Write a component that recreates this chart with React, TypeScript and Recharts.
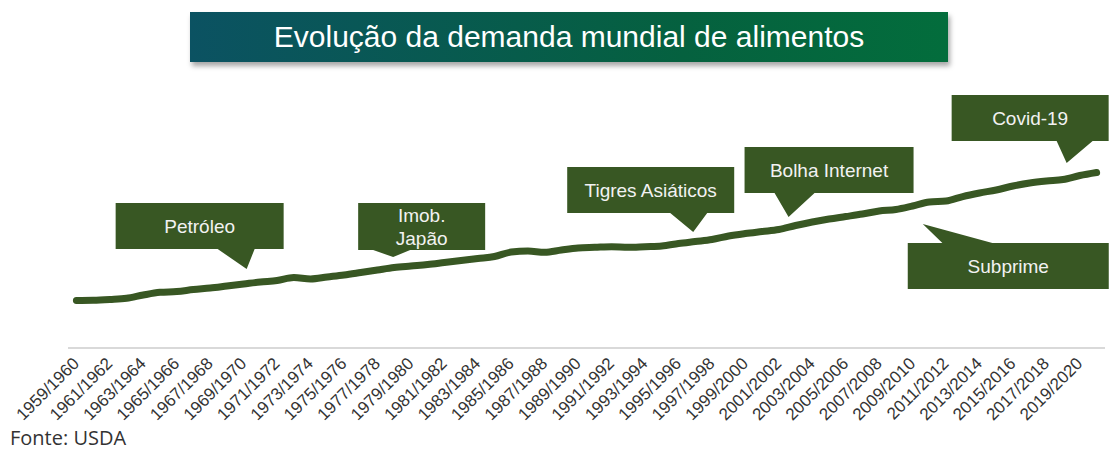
import React from "react";
import { LineChart, Line, XAxis, YAxis, ReferenceDot } from "recharts";

// safras 1959/1960 .. 2020/2021
const seasons = Array.from({ length: 62 }, (_, i) => `${1959 + i}/${1960 + i}`);

// demanda mundial (mi t, estimada a partir da figura)
const demand = [
  712, 715, 727, 745, 795, 835, 847, 877, 900, 930,
  960, 990, 1012, 1057, 1035, 1065, 1095, 1132, 1170, 1207,
  1230, 1252, 1282, 1312, 1342, 1372, 1440, 1455, 1435, 1470,
  1500, 1510, 1520, 1510, 1520, 1530, 1567, 1597, 1627, 1680,
  1717, 1747, 1777, 1837, 1890, 1935, 1972, 2010, 2055, 2077,
  2130, 2190, 2205, 2272, 2325, 2370, 2430, 2475, 2505, 2527,
  2587, 2632,
];

const eventSeasons = ["1969/1970", "1978/1979", "1996/1997", "2002/2003", "2018/2019", "2010/2011"];
const eventLabels = [
  ["Petróleo"],
  ["Imob.", "Japão"],
  ["Tigres Asiáticos"],
  ["Bolha Internet"],
  ["Covid-19"],
  ["Subprime"],
];

// callout geometry relative to the anchored point: box [l, r, t, b], pointer base [a, b], tip [x, y]
const calloutShapes = [
  { box: [-128, 40, -81, -35], base: [-26, 11], tip: [3, -15] },
  { box: [-36, 91, -64.5, -17.5], base: [-21, 16], tip: [-1, -10.5] },
  { box: [-128, 39, -74.5, -28.5], base: [-25, 12], tip: [-2, -9.5] },
  { box: [-51, 118, -78.5, -32.5], base: [-21, 19], tip: [-7, -8.5] },
  { box: [-111.5, 45.5, -84.5, -38.5], base: [-6.5, 29.5], tip: [3.5, -16.5] },
  { box: [-21.6, 179.4, 41, 87], base: [13, 63], tip: [-6.6, 22] },
];

const data = seasons.map((s, i) => ({ season: s, value: demand[i] }));

const GREEN = "#385723";
const FONT = "'Liberation Sans', Arial, sans-serif";

function Callout({ cx, cy, idx }: { cx?: number; cy?: number; idx: number }) {
  if (cx === undefined || cy === undefined) return <g />;
  const { box, base, tip } = calloutShapes[idx];
  const [l, r, t, b] = box.map((v, k) => (k < 2 ? cx + v : cy + v));
  const tx = cx + tip[0];
  const ty = cy + tip[1];
  const below = tip[1] < 0;
  const d = below
    ? `M${l},${t} L${r},${t} L${r},${b} L${cx + base[1]},${b} L${tx},${ty} L${cx + base[0]},${b} L${l},${b} Z`
    : `M${l},${t} L${cx + base[0]},${t} L${tx},${ty} L${cx + base[1]},${t} L${r},${t} L${r},${b} L${l},${b} Z`;
  const lines = eventLabels[idx];
  const mx = (l + r) / 2;
  const my = (t + b) / 2;
  return (
    <g>
      <path d={d} fill={GREEN} />
      {lines.map((txt, k) => (
        <text
          key={k}
          x={mx}
          y={my + (k - (lines.length - 1) / 2) * 23}
          textAnchor="middle"
          dominantBaseline="central"
          fill="#f2f2f2"
          fontSize={19}
          fontFamily={FONT}
        >
          {txt}
        </text>
      ))}
    </g>
  );
}

function SeasonTick({ x, y, payload }: { x?: number; y?: number; payload?: { value: string } }) {
  if (x === undefined || y === undefined || !payload) return <g />;
  const ax = x + 3.7;
  const ay = y + 16.5;
  return (
    <text
      x={ax}
      y={ay}
      transform={`rotate(-45 ${ax} ${ay})`}
      textAnchor="end"
      fill="#333333"
      fontSize={17}
      fontFamily={FONT}
    >
      {payload.value}
    </text>
  );
}

export default function App() {
  return (
    <div
      style={{
        position: "absolute",
        left: 0,
        top: 0,
        width: 1110,
        height: 450,
        background: "#fff",
        overflow: "hidden",
      }}
    >
      <div
        style={{
          position: "absolute",
          left: 190,
          top: 12,
          width: 758,
          height: 50,
          background: "linear-gradient(90deg, #0b5262 0%, #05613f 65%, #036d3c 100%)",
          boxShadow: "2px 4px 5px rgba(0,0,0,0.35)",
          color: "#fff",
          fontFamily: FONT,
          fontSize: 30,
          lineHeight: "50px",
          textAlign: "center",
        }}
      >
        Evolução da demanda mundial de alimentos
      </div>
      <div style={{ position: "absolute", left: 0, top: 0 }}>
        <LineChart
          width={1110}
          height={450}
          data={data}
          margin={{ top: 148, right: 5, left: 68, bottom: 0 }}
        >
          <XAxis
            dataKey="season"
            interval={1}
            height={102}
            tickLine={false}
            tickSize={0}
            tickMargin={0}
            padding={{ left: 8.4, right: 8.4 }}
            axisLine={{ stroke: "#d9d9d9", strokeWidth: 2 }}
            tick={<SeasonTick />}
          />
          <YAxis hide width={0} domain={[0, 3000]} />
          <Line
            type="monotone"
            dataKey="value"
            stroke={GREEN}
            strokeWidth={7}
            strokeLinecap="round"
            strokeLinejoin="round"
            dot={false}
            activeDot={false}
            isAnimationActive={false}
          />
          {eventSeasons.map((s, i) => (
            <ReferenceDot
              key={s}
              x={s}
              y={demand[seasons.indexOf(s)]}
              ifOverflow="visible"
              shape={(p: { cx?: number; cy?: number }) => <Callout cx={p.cx} cy={p.cy} idx={i} />}
            />
          ))}
        </LineChart>
      </div>
      <div
        style={{
          position: "absolute",
          left: 10,
          top: 426,
          fontFamily: "'Open Sans', sans-serif",
          fontSize: 20,
          lineHeight: "24px",
          color: "#333333",
        }}
      >
        Fonte: USDA
      </div>
    </div>
  );
}
